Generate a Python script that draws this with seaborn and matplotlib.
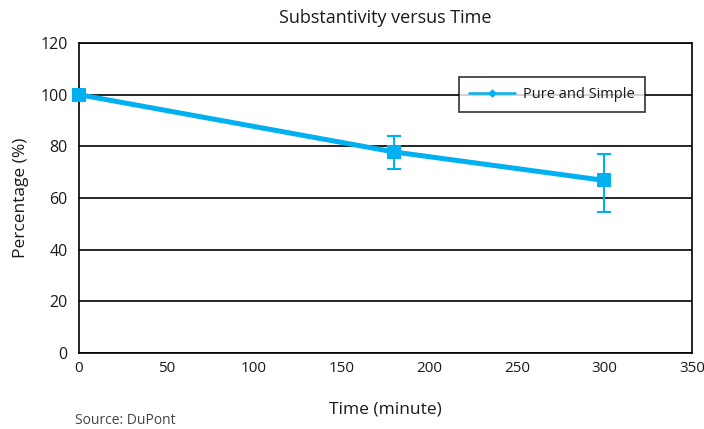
import seaborn as sns
import matplotlib.pyplot as plt
import pandas as pd
from matplotlib.lines import Line2D

# values
time_min = [0, 180, 300]
percent = [100, 77.8, 66.8]
err_low = [0, 6.7, 12.2]
err_high = [0, 6.3, 10.2]
series_name = "Pure and Simple"

df = pd.DataFrame({"Time": time_min, "Percentage": percent})

sns.set_style("white")
plt.rcParams['font.family'] = ['Open Sans', 'DejaVu Sans']

blue = "#00B0F0"
txt = "#1a1a1a"
fig, ax = plt.subplots(figsize=(7.04, 4.29), dpi=100)

sns.lineplot(data=df, x="Time", y="Percentage", ax=ax, color=blue,
             linewidth=3.6, marker="s", markersize=10, markeredgewidth=0,
             zorder=3, clip_on=False)
ax.errorbar(time_min, percent, yerr=[err_low, err_high], fmt="none",
            ecolor=blue, elinewidth=1.5, capsize=5, capthick=1.5, zorder=2)

ax.set_xlim(0, 350)
ax.set_ylim(0, 120)
ax.set_xticks(range(0, 351, 50))
ax.set_yticks(range(0, 121, 20))
ax.yaxis.grid(True, color="black", linewidth=1.2)
ax.set_axisbelow(True)
for s in ax.spines.values():
    s.set_color("black")
    s.set_linewidth(1.2)
ax.tick_params(axis="y", direction="out", length=5, width=1.2, labelsize=11.5, pad=3)
ax.tick_params(axis="x", direction="in", length=5, width=1.2, labelsize=11, pad=6)
ax.tick_params(axis="both", labelcolor=txt, color="black")

ax.set_title("Substantivity versus Time", fontsize=13, pad=14, color=txt)
ax.set_xlabel("Time (minute)", fontsize=12.5, labelpad=18, color=txt)
ax.set_ylabel("Percentage (%)", fontsize=12.5, labelpad=8, color=txt)

handle = Line2D([0], [0], color=blue, linewidth=1.8, marker="D", markersize=3.5)
leg = ax.legend([handle], [series_name], loc="center", bbox_to_anchor=(0.771, 0.834),
                frameon=True, fancybox=False, edgecolor="black", fontsize=10.5,
                handlelength=3.2, handletextpad=0.5, borderpad=0.7, borderaxespad=0)
leg.get_frame().set_linewidth(1.2)
for t in leg.get_texts():
    t.set_color(txt)

fig.text(0.107, 0.012, "Source: DuPont", fontsize=10, color="#444444")

fig.subplots_adjust(left=0.112, right=0.983, top=0.9, bottom=0.177)
fig.savefig("out.png", dpi=100)
